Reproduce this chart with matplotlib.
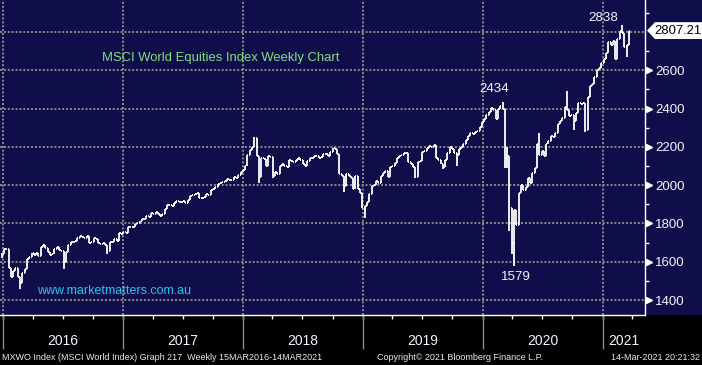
import numpy as np
import pandas as pd
import matplotlib
matplotlib.use('Agg')
import matplotlib.pyplot as plt
import matplotlib.dates as mdates
import matplotlib.transforms as mtransforms
from matplotlib.collections import LineCollection
from matplotlib.patches import Polygon, Rectangle

plt.rcParams['font.family'] = ['Liberation Sans', 'DejaVu Sans']

# Weekly closes (Friday)
close_2015 = [1640, 1668]
close_2016 = [1665, 1570, 1520, 1550, 1565, 1520, 1490, 1540, 1560, 1615, 1625, 1645, 1635,
              1645, 1630, 1675, 1685, 1670, 1650, 1635, 1640, 1665, 1675, 1660, 1655, 1600,
              1650, 1690, 1705, 1705, 1710, 1725, 1735, 1730, 1725, 1735, 1700, 1705, 1725, 1720,
              1700, 1695, 1700, 1690, 1655, 1705, 1705, 1720, 1710, 1750, 1745, 1755, 1750]
close_2017 = [1780, 1782, 1780, 1796, 1800, 1812, 1822, 1825, 1840, 1835, 1855, 1850, 1858,
              1848, 1838, 1850, 1875, 1895, 1898, 1892, 1905, 1915, 1912, 1910, 1915, 1908,
              1925, 1945, 1950, 1955, 1960, 1935, 1932, 1940, 1955, 1950, 1975, 1980, 1990,
              2005, 2010, 2015, 2020, 2030, 2025, 2028, 2045, 2040, 2055, 2070, 2080, 2100]
close_2018 = [2160, 2185, 2200, 2245, 2150, 2045, 2140, 2135, 2100, 2150, 2145, 2050, 2070,
              2060, 2100, 2110, 2100, 2095, 2130, 2125, 2120, 2130, 2140, 2130, 2110, 2100,
              2125, 2140, 2140, 2150, 2150, 2140, 2145, 2165, 2165, 2150, 2175, 2195, 2190,
              2165, 2060, 2050, 1995, 2060, 2050, 2040, 1980, 2050, 1980, 1960, 1880, 1890]
close_2019 = [1910, 1955, 1995, 2000, 2020, 2012, 2050, 2062, 2075, 2045, 2095, 2100, 2115,
              2140, 2150, 2160, 2170, 2168, 2120, 2110, 2095, 2045, 2120, 2125, 2175, 2180,
              2195, 2205, 2200, 2210, 2140, 2130, 2110, 2095, 2130, 2170, 2200, 2190, 2170,
              2160, 2190, 2200, 2215, 2235, 2255, 2270, 2265, 2280, 2285, 2305, 2330, 2345]
close_2020 = [2365, 2380, 2405, 2390, 2345, 2400, 2415, 2400, 2140, 2150, 1880, 1700, 1870,
              1790, 1960, 2000, 1975, 1990, 2040, 2010, 2065, 2090, 2215, 2160, 2180, 2150,
              2215, 2230, 2255, 2250, 2275, 2320, 2335, 2350, 2410, 2390, 2360, 2365, 2335,
              2375, 2430, 2425, 2430, 2290, 2460, 2520, 2530, 2565, 2600, 2610, 2640, 2660]
close_2021 = [2690, 2750, 2730, 2755, 2660, 2765, 2805, 2795, 2720, 2730, 2807.21]

# intraweek extremes where the bar sticks out
week_lows = {'2015-12-18': 1620, '2016-02-12': 1458, '2016-06-24': 1563, '2016-11-04': 1640,
             '2018-02-09': 2010, '2018-03-23': 2035, '2018-10-26': 1963, '2018-12-28': 1826,
             '2019-05-31': 2040, '2019-08-23': 2085, '2019-10-04': 2100, '2020-02-28': 2090,
             '2020-03-06': 2090, '2020-03-13': 1760, '2020-03-20': 1640, '2020-03-27': 1579,
             '2020-09-25': 2290, '2020-10-30': 2280, '2021-03-05': 2668}
week_highs = {'2018-01-26': 2250, '2020-02-21': 2434, '2020-03-06': 2200, '2020-06-12': 2275,
              '2020-09-04': 2490, '2021-02-19': 2838}

grid_levels = [1400, 1600, 1800, 2000, 2200, 2400, 2600, 2800]
label_levels = [1400, 1600, 1800, 2000, 2200, 2400, 2600]
minor_levels = [1500, 1700, 1900, 2100, 2300, 2500, 2700, 2900]
years = [2016, 2017, 2018, 2019, 2020, 2021]
last_price = 2807.21
callouts = [('2434', '2020-02-21', 2434, (-8, 13)),
            ('2838', '2021-02-19', 2838, (-19, 7)),
            ('1579', '2020-03-27', 1579, (2, -11))]

close = close_2015 + close_2016 + close_2017 + close_2018 + close_2019 + close_2020 + close_2021
dates = pd.date_range(end='2021-03-12', periods=len(close), freq='W-FRI')
opens = [close[0]] + close[:-1]
highs, lows = [], []
for d, o, c in zip(dates, opens, close):
    key = d.strftime('%Y-%m-%d')
    highs.append(week_highs.get(key, max(o, c)))
    lows.append(week_lows.get(key, min(o, c)))

navy = '#0f0e4a'
fig = plt.figure(figsize=(7.02, 3.65), dpi=100, facecolor='black')
fig.patches.append(Rectangle((0, 50 / 365), 1, 315 / 365, transform=fig.transFigure,
                             facecolor=navy, edgecolor='none', zorder=-10))
ax = fig.add_axes([0, 50 / 365, 645 / 702, 315 / 365])
ax.set_facecolor(navy)

# bars are drawn a little after their week end, like the Bloomberg chart
xs = mdates.date2num(dates) + 10
w = 3
segs = []
for x, o, h, l, c in zip(xs, opens, highs, lows, close):
    segs.append([(x, l), (x, h)])
    segs.append([(x - w, o), (x, o)])
    segs.append([(x, c), (x + w, c)])
ax.add_collection(LineCollection(segs, colors='white', linewidths=1.3, zorder=3))

x0 = mdates.date2num(pd.Timestamp('2015-12-23'))
x1 = mdates.date2num(pd.Timestamp('2021-05-10'))
ax.set_xlim(x0, x1)
ax.set_ylim(1322, 2967)

# dotted grid
for lv in grid_levels:
    ax.axhline(lv, color='#8c8c8c', lw=1.4, ls=(0, (1, 1)), zorder=1)
year_x = [mdates.date2num(pd.Timestamp(f'{y}-01-01')) for y in years]
for yx in year_x:
    ax.axvline(yx, color='#8c8c8c', lw=1.4, ls=(0, (1, 1)), zorder=1)

for s in ['left', 'top']:
    ax.spines[s].set_visible(False)
for s in ['right', 'bottom']:
    ax.spines[s].set_color('white')
    ax.spines[s].set_linewidth(1.0)

# x axis: quarter ticks, year separators, year labels
quarters = pd.date_range('2016-01-01', '2021-04-01', freq='QS')
ax.set_xticks(mdates.date2num(quarters))
ax.set_xticklabels([])
ax.tick_params(axis='x', length=3, width=1, color='white', direction='out')
bt = mtransforms.blended_transform_factory(ax.transData, ax.transAxes)
ax.vlines(year_x, -34 / 315, 0, transform=bt, color='#8a8a8a', lw=1.0, clip_on=False)
edges = year_x + [x1]
for y, a, b in zip(years, edges[:-1], edges[1:]):
    ax.text((a + b) / 2, -26 / 315, str(y), transform=bt, ha='center', va='center',
            color='#f2f2ff', fontsize=10)

# y axis on the right
ax.yaxis.tick_right()
ax.set_yticks(label_levels)
ax.set_yticklabels([str(v) for v in label_levels])
ax.set_yticks(minor_levels, minor=True)
ax.tick_params(axis='y', which='major', length=0, pad=7.4, labelcolor='#f4f4ff', labelsize=9.5)
ax.tick_params(axis='y', which='minor', length=3, width=1, color='white', direction='out')
rt = mtransforms.blended_transform_factory(ax.transAxes, ax.transData)
ax.plot([1 + 4 / 645] * len(label_levels), label_levels, transform=rt, ls='none',
        marker='>', ms=5, color='white', clip_on=False, zorder=4)

# last price box
hh = 44
box = Polygon([(1 + 2 / 645, last_price), (1 + 10 / 645, last_price + hh),
               (1 + 60 / 645, last_price + hh), (1 + 60 / 645, last_price - hh),
               (1 + 10 / 645, last_price - hh)], closed=True, transform=rt,
              facecolor='white', edgecolor='none', clip_on=False, zorder=5)
ax.add_patch(box)
ax.text(1 + 9 / 645, last_price, f'{last_price:.2f}', transform=rt, ha='left', va='center',
        color='black', fontsize=9.4, zorder=6, clip_on=False)

# callouts
for txt, d, v, off in callouts:
    ax.annotate(txt, (mdates.date2num(pd.Timestamp(d)) + 10, v), xytext=off,
                textcoords='offset pixels', ha='center', va='center',
                color='#f4f4ff', fontsize=9.6, zorder=6)

ax.text(102 / 645, 1 - 57.5 / 315, 'MSCI World Equities Index Weekly Chart',
        transform=ax.transAxes, ha='left', va='center', color='#80e080', fontsize=9.4)
ax.text(37 / 645, 1 - 291 / 315, 'www.marketmatters.com.au', transform=ax.transAxes,
        ha='left', va='center', color='#22c8ee', fontsize=9)

# footer
foot = dict(color='#e8e8f2', fontsize=6.5, va='center')
fig.text(2 / 702, 7 / 365, 'MXWO Index (MSCI World Index) Graph 217  Weekly 15MAR2016-14MAR2021',
         ha='left', **foot)
fig.text(377 / 702, 7 / 365, 'Copyright\u00a9 2021 Bloomberg Finance L.P.', ha='left', **foot)
fig.text(700 / 702, 7 / 365, '14-Mar-2021 20:21:32', ha='right', **foot)

fig.savefig('out.png', dpi=100, facecolor='black')
